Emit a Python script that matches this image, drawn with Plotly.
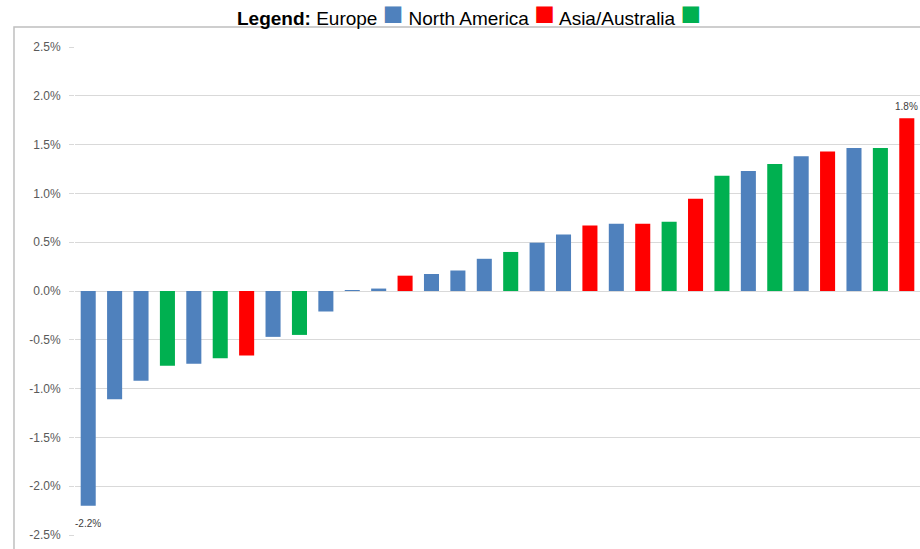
import plotly.graph_objects as go

# ---- data ----
regions = ["Europe", "North America", "Asia/Australia"]
region_colors = ["#4F81BD", "#FF0000", "#00B050"]
bar_region = [0, 0, 0, 2, 0, 2, 1, 0, 2, 0,
              0, 0, 1, 0, 0, 0, 2, 0, 0, 1,
              0, 1, 2, 1, 2, 0, 2, 0, 1, 0,
              2, 1]
values = [-2.20, -1.11, -0.92, -0.765, -0.745, -0.69, -0.66, -0.47, -0.45, -0.21,
          0.01, 0.025, 0.157, 0.174, 0.21, 0.33, 0.40, 0.495, 0.58, 0.67,
          0.69, 0.69, 0.71, 0.945, 1.18, 1.23, 1.30, 1.38, 1.43, 1.465,
          1.465, 1.77]
categories = [f"C{i + 1}" for i in range(len(values))]
tick_vals = [2.5, 2.0, 1.5, 1.0, 0.5, 0.0, -0.5, -1.0, -1.5, -2.0, -2.5]
tick_text = [f"{v:.1f}%" for v in tick_vals]

colors = [region_colors[r] for r in bar_region]

fig = go.Figure(go.Bar(
    x=categories, y=values, marker_color=colors, marker_line_width=0,
    hoverinfo="skip",
))

# data labels for the extremes only
i_min = values.index(min(values))
i_max = values.index(max(values))
label_annots = []
for i, anchor, shift in ((i_min, "top", -10), (i_max, "bottom", 4)):
    label_annots.append(dict(
        x=categories[i], y=values[i], xref="x", yref="y", text=f"{values[i]:.1f}%",
        showarrow=False, yanchor=anchor, yshift=shift, xanchor="center",
        font=dict(size=10, color="#404040", family="Liberation Sans")))

legend_html = "<b>Legend:</b> " + " ".join(
    f"{name} <span style='color:{c};font-size:34px'>■</span>" for name, c in zip(regions, region_colors)
)

fig.update_layout(
    width=920, height=549,
    margin=dict(l=75, r=0, t=47, b=14),
    paper_bgcolor="white", plot_bgcolor="white",
    bargap=0.43, showlegend=False,
    font=dict(family="Liberation Sans", color="#595959"),
    xaxis=dict(showticklabels=False, showgrid=False, zeroline=False, showline=False,
               range=[-0.5, len(values) - 0.5]),
    yaxis=dict(range=[-2.5, 2.5], tickvals=tick_vals, ticktext=tick_text,
               showgrid=True, gridcolor="#D9D9D9", gridwidth=1,
               zeroline=True, zerolinecolor="#D9D9D9", zerolinewidth=1,
               ticks="outside", ticklen=5, tickcolor="#D9D9D9", ticklabelstandoff=6,
               tickfont=dict(size=12, color="#595959"), showline=False),
    annotations=label_annots + [dict(text=legend_html, xref="paper", yref="paper",
                      x=0.466, y=1.069, xanchor="center", yanchor="middle",
                      showarrow=False, font=dict(size=19, color="#000000", family="Liberation Sans"))],
    shapes=[dict(type="rect", xref="paper", yref="paper",
                 x0=-0.0722, x1=1.02, y0=-0.1, y1=1.041,
                 line=dict(color="#BFBFBF", width=1.5), fillcolor="rgba(0,0,0,0)", layer="below")],
)

fig.write_html("out.html", config={"displayModeBar": False},
               post_script="document.body.style.margin='0';")
